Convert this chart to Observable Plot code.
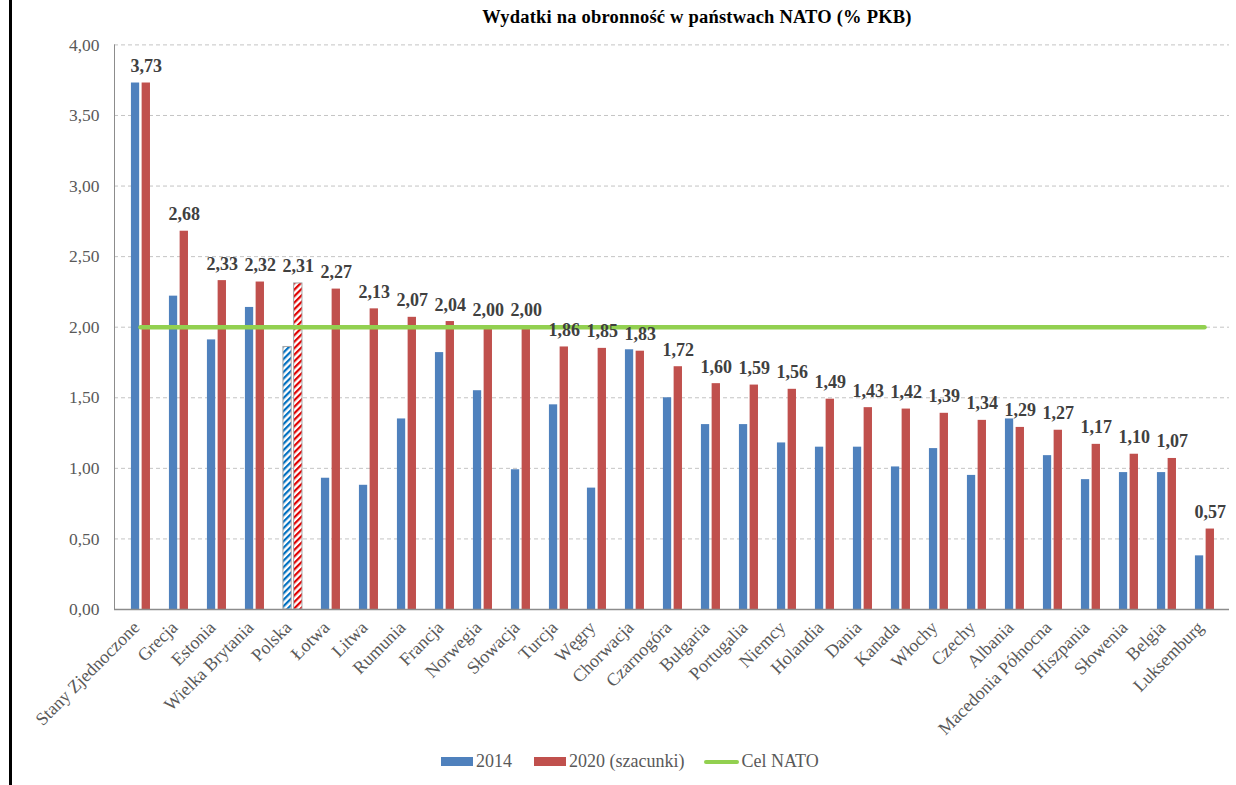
<!DOCTYPE html>
<html>
<head>
<meta charset="utf-8">
<script src="https://cdn.jsdelivr.net/npm/d3@7"></script>
<script src="https://cdn.jsdelivr.net/npm/@observablehq/plot@0.6"></script>
<style>
  body { margin: 0; background: #fff; }
  #wrap { position: relative; width: 1236px; height: 785px; overflow: hidden; font-family: "Liberation Serif", "Times New Roman", serif; }
  #border { position: absolute; left: 9px; top: 0; width: 3px; height: 785px; background: #000; z-index: 5; }
  #title { position: absolute; left: 158px; top: 7px; width: 1078px; text-align: center; font-weight: bold; font-size: 18.5px; color: #000; letter-spacing: 0.2px; }
  #chart { position: absolute; left: 0; top: 36px; }
  #chart svg text { font-family: "Liberation Serif", "Times New Roman", serif !important; }
  #legend { position: absolute; left: 441px; top: 751px; display: flex; align-items: center; font-size: 18px; color: #595959; white-space: nowrap; font-family: "Liberation Serif", serif; }
  .sw { display: inline-block; width: 32px; height: 9px; margin-right: 3px; }
  .ln { display: inline-block; width: 35px; height: 4px; border-radius: 2px; background: #92D050; margin-right: 2px; }
</style>
</head>
<body>
<div id="wrap">
  <div id="title">Wydatki na obronność w państwach NATO (% PKB)</div>
  <div id="chart"></div>
  <div id="legend">
    <span class="sw" style="background:#4F81BD"></span><span style="margin-right:22px">2014</span>
    <span class="sw" style="background:#C0504D"></span><span style="margin-right:20px">2020 (szacunki)</span>
    <span class="ln"></span><span>Cel NATO</span>
  </div>
  <div id="border"></div>
</div>
<script>
const countries = ["Stany Zjednoczone","Grecja","Estonia","Wielka Brytania","Polska","Łotwa","Litwa","Rumunia","Francja","Norwegia","Słowacja","Turcja","Węgry","Chorwacja","Czarnogóra","Bułgaria","Portugalia","Niemcy","Holandia","Dania","Kanada","Włochy","Czechy","Albania","Macedonia Północna","Hiszpania","Słowenia","Belgia","Luksemburg"];
const v2014 = [3.73,2.22,1.91,2.14,1.86,0.93,0.88,1.35,1.82,1.55,0.99,1.45,0.86,1.84,1.50,1.31,1.31,1.18,1.15,1.15,1.01,1.14,0.95,1.35,1.09,0.92,0.97,0.97,0.38];
const v2020 = [3.73,2.68,2.33,2.32,2.31,2.27,2.13,2.07,2.04,2.00,2.00,1.86,1.85,1.83,1.72,1.60,1.59,1.56,1.49,1.43,1.42,1.39,1.34,1.29,1.27,1.17,1.10,1.07,0.57];
const natoGoal = 2.0;
const yTicks = [0,0.5,1,1.5,2,2.5,3,3.5,4];
const highlight = "Polska";

const rows = countries.map((c, i) => ({country: c, v2014: v2014[i], v2020: v2020[i]}));
const goal = countries.map(c => ({country: c, value: natoGoal}));
const fmt = d => d.toFixed(2).replace(".", ",");

const W = 1236, H = 710, ML = 114, MR = 7, MT = 8.4, MB = 137;
const bw = (W - ML - MR) / countries.length;
const half = bw / 2;
const blueIns = {insetLeft: half - 9.3, insetRight: half + 0.6};
const redIns = {insetLeft: half + 1.4, insetRight: half - 10.2};
const normal = rows.filter(d => d.country !== highlight);
const special = rows.filter(d => d.country === highlight);
const serif = "'Liberation Serif', 'Times New Roman', serif";

const chart = Plot.plot({
  width: W, height: H,
  marginLeft: ML, marginRight: MR, marginTop: MT, marginBottom: MB,
  style: {fontFamily: serif, background: "#fff"},
  x: {type: "band", domain: countries, padding: 0, align: 0.5},
  y: {domain: [0, 4]},
  marks: [
    Plot.gridY(yTicks.filter(t => t > 0), {stroke: "#c4c4c4", strokeOpacity: 1, strokeDasharray: "4,3"}),
    Plot.barY(normal, {x: "country", y: "v2014", fill: "#4F81BD", ...blueIns}),
    Plot.barY(normal, {x: "country", y: "v2020", fill: "#C0504D", ...redIns}),
    Plot.barY(special, {x: "country", y: "v2014", fill: "url(#hatch2014)", stroke: "#a6a6a6", strokeWidth: 1, ...blueIns}),
    Plot.barY(special, {x: "country", y: "v2020", fill: "url(#hatch2020)", stroke: "#a6a6a6", strokeWidth: 1, ...redIns}),
    Plot.lineY(goal, {x: "country", y: "value", stroke: "#92D050", strokeWidth: 4.5}),
    Plot.ruleY([0], {stroke: "#8c8c8c", strokeWidth: 1.5}),
    Plot.frame({anchor: "left", stroke: "#8c8c8c"}),
    Plot.text(rows, {x: "country", y: "v2020", text: d => fmt(d.v2020), dx: 5.8, dy: -11, lineAnchor: "bottom", textAnchor: "middle", fontWeight: "bold", fontSize: 18, fill: "#404040", fontFamily: serif}),
    Plot.axisY(yTicks, {tickSize: 0, tickPadding: 15, tickFormat: fmt, fontSize: 17.5, color: "#595959", label: null, fontFamily: serif}),
    Plot.axisX({tickSize: 0, tickRotate: -45, tickPadding: 8, dx: -4, dy: 7, fontSize: 18, color: "#595959", label: null, fontFamily: serif})
  ]
});

d3.select(chart).insert("defs", ":first-child").html(`
  <pattern id="hatch2014" patternUnits="userSpaceOnUse" width="4.6" height="4.6" patternTransform="rotate(45)">
    <rect width="4.6" height="4.6" fill="#ffffff"/><rect width="2.2" height="4.6" fill="#0070C0"/>
  </pattern>
  <pattern id="hatch2020" patternUnits="userSpaceOnUse" width="4.6" height="4.6" patternTransform="rotate(45)">
    <rect width="4.6" height="4.6" fill="#ffffff"/><rect width="2.2" height="4.6" fill="#E00000"/>
  </pattern>`);

document.getElementById("chart").appendChild(chart);
</script>
</body>
</html>
